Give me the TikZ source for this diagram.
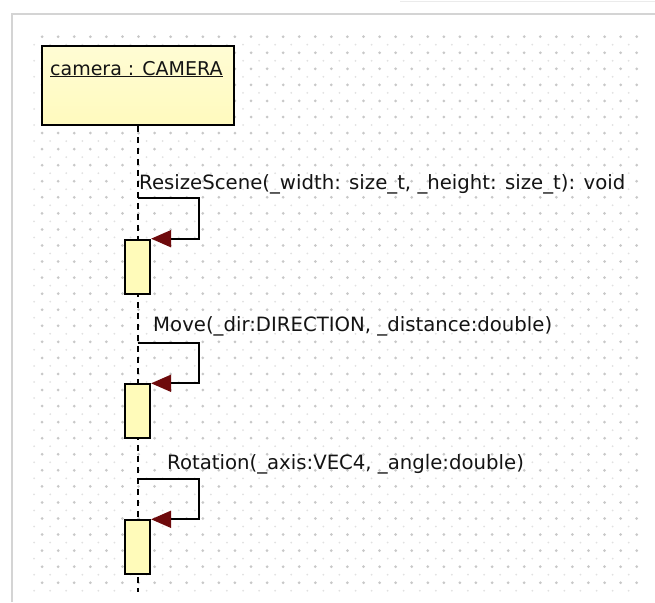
\documentclass[tikz,border=0pt]{standalone}
\usepackage{fontspec}
\setmainfont{DejaVu Sans}
\usetikzlibrary{arrows.meta}
\definecolor{framegray}{RGB}{212,212,212}
\definecolor{dotbig}{RGB}{200,200,200}
\definecolor{dotsmall}{RGB}{225,225,225}
\definecolor{objyellow}{RGB}{255,250,190}
\definecolor{objtop}{RGB}{255,252,212}
\definecolor{actyellow}{RGB}{255,251,186}
\definecolor{arrowred}{RGB}{110,10,12}
\tikzset{
  objbox/.style={draw=black, line width=1.8pt, top color=objtop, bottom color=objyellow,
    minimum width=192pt, minimum height=79pt, inner sep=0pt, anchor=north west},
  actbox/.style={draw=black, line width=1.8pt, fill=actyellow,
    minimum width=25pt, minimum height=54pt, inner sep=0pt, anchor=north west},
  lifeline/.style={line width=1.8pt, dash pattern=on 6pt off 5pt},
  selfmsg/.style={line width=1.8pt, -{Triangle[length=20pt,width=17pt,color=arrowred]}},
  msglabel/.style={anchor=base west, inner sep=0pt, font=\fontsize{19.7}{23}\selectfont, text=black!92},
  objlabel/.style={anchor=base west, inner sep=0pt, font=\fontsize{19}{23}\selectfont, text=black!92}
}
\begin{document}
\begin{tikzpicture}[x=1pt,y=-1pt]
\useasboundingbox (0,0) rectangle (655,602);
\fill[white] (0,0) rectangle (655,602);
% dotted drawing grid
\foreach \i in {0,...,37}{
  \foreach \j in {0,...,34}{
    \fill[dotbig] ({42.1+16.07*\i},{36.7+16.06*\j}) circle (1.5);
    \fill[dotsmall] ({34.1+16.07*\i},{44.7+16.06*\j}) circle (1.0);
  }
}
% diagram frame
\draw[framegray, line width=2.5pt] (12,602) -- (12,14) -- (655,14);
\draw[black!8, line width=1pt] (400,2) -- (655,2);

% object and its lifeline
\node[objbox] (cam) at (41,45) {};
\node[objlabel] (camlbl) at (50,75) {\underline{camera : CAMERA}};
\coordinate (lifeend) at (138.3,592);
\draw[lifeline] (cam.south -| lifeend) -- (lifeend);

% activations
\node[actbox] (act1) at (124.3,238.7) {};
\node[actbox] (act2) at (124.3,383.3) {};
\node[actbox] (act3) at (124.3,519.3) {};

% self messages
\coordinate (s1) at (138.3,198);
\coordinate (s2) at (138.3,343);
\coordinate (s3) at (138.3,479);
\draw[selfmsg] (s1) -- ++(61,0) |- (act1.north east);
\draw[selfmsg] (s2) -- ++(61,0) |- (act2.north east);
\draw[selfmsg] (s3) -- ++(61,0) |- (act3.north east);

\node[msglabel] (m1) at (139,189.5) {ResizeScene(\_width: size\_t, \_height: size\_t): void};
\node[msglabel] (m2) at (153,331.5) {Move(\_dir:DIRECTION, \_distance:double)};
\node[msglabel] (m3) at (167,469) {Rotation(\_axis:VEC4, \_angle:double)};
\end{tikzpicture}
\end{document}
